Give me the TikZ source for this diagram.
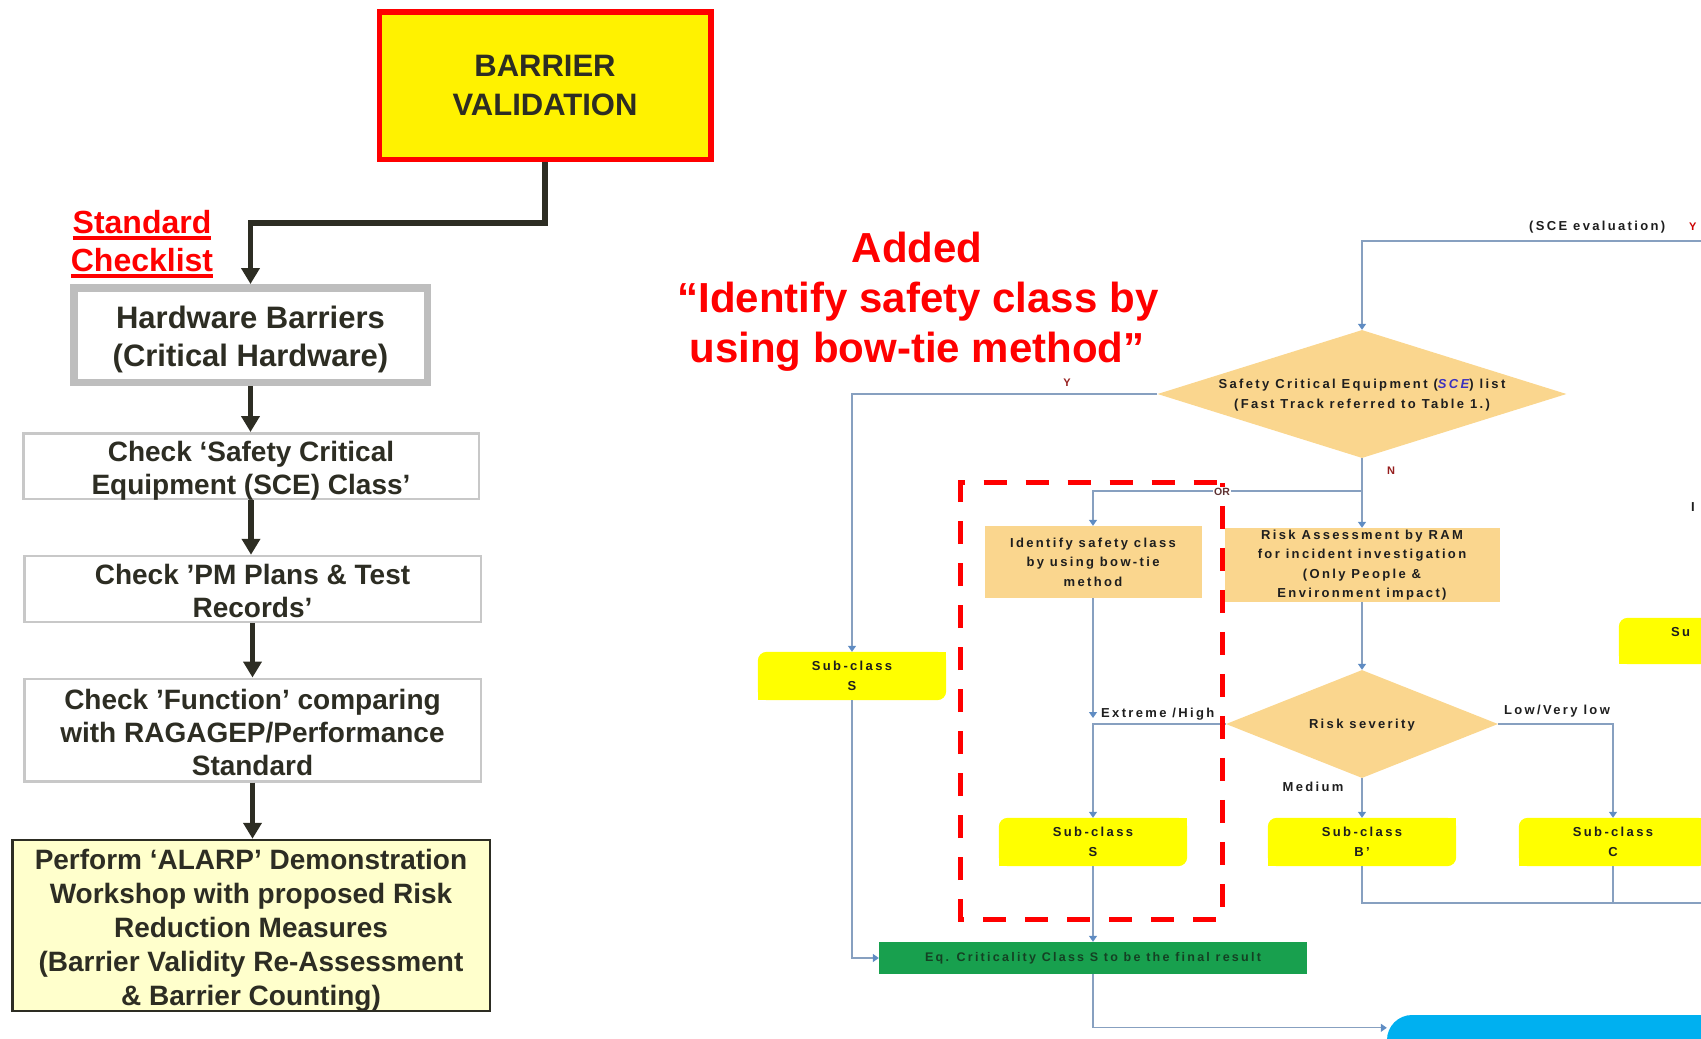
\documentclass[tikz,border=0pt]{standalone}
\usepackage{fontspec}
\setmainfont{Liberation Sans}
\newfontfamily\flowfont[LetterSpace=18]{Liberation Sans}
\usetikzlibrary{arrows.meta,shapes.geometric}

\definecolor{ink}{RGB}{45,45,35}
\definecolor{flowline}{RGB}{135,160,192}
\definecolor{flowtip}{RGB}{95,140,195}
\definecolor{peach}{RGB}{250,214,142}
\definecolor{subyellow}{RGB}{255,255,0}
\definecolor{eqgreen}{RGB}{24,160,78}
\definecolor{eqtext}{RGB}{20,65,35}
\definecolor{endblue}{RGB}{0,176,240}
\definecolor{lblred}{RGB}{150,30,30}
\definecolor{orbrown}{RGB}{95,50,50}
\definecolor{sceblue}{RGB}{60,50,190}
\definecolor{paleyellow}{RGB}{255,255,204}
\definecolor{boxgray}{RGB}{190,190,190}
\definecolor{thingray}{RGB}{200,200,200}
\definecolor{fltext}{RGB}{30,30,30}

\pgfdeclarelayer{bg}
\pgfsetlayers{bg,main}

% thick underline for the red heading
\newcommand\redrule[1]{\setbox0\hbox{#1}\rlap{\rule[-7pt]{\wd0}{4pt}}\box0}

% yellow sub-class box: rounded top-left and bottom-right corners
\newcommand\subfill[1]{%
  \begin{pgfonlayer}{bg}
    \fill[subyellow, rounded corners=9] (#1.north west) rectangle (#1.south east);
    \fill[subyellow] (#1.north east) rectangle ++(-12,12);
    \fill[subyellow] (#1.south west) rectangle ++(12,-12);
  \end{pgfonlayer}}

\begin{document}
\begin{tikzpicture}[x=1pt, y=-1pt,
  stepbox/.style={draw=thingray, line width=2.5, fill=white, text=ink, align=center,
    inner sep=0, text depth=0pt, font=\bfseries\fontsize{28}{33}\selectfont},
  darrow/.style={draw=ink, line width=5.5, -{Triangle[width=18pt,length=16pt]}},
  flow/.style={draw=flowline, line width=1.3},
  flowarr/.style={flow, -{Triangle[width=8pt,length=6pt,color=flowtip]}},
  fltxt/.style={font=\flowfont\bfseries\fontsize{13}{19.5}\selectfont, text=fltext,
    align=center, inner sep=0},
  lbl/.style={fltxt, text=lblred, font=\flowfont\bfseries\fontsize{11}{12}\selectfont},
  subnode/.style={fltxt, minimum width=188, minimum height=48},
  peachbox/.style={fltxt, fill=peach},
  decision/.style={diamond, fill=peach, inner sep=0}
]
\useasboundingbox (0,0) rectangle (1701,1039);
\clip (0,0) rectangle (1701,1039);

% ---------------- left column: barrier validation steps ----------------
\node[draw=red, line width=5.5, fill=yellow, minimum width=331.5, minimum height=147.5,
  inner sep=0, text=ink, align=center, font=\bfseries\fontsize{31}{39}\selectfont]
  (bv) at (545,85.5) {BARRIER\\VALIDATION};

\node[anchor=base, text=red, inner sep=0, font=\bfseries\fontsize{32}{38}\selectfont]
  (std) at (142,233) {\redrule{Standard}};
\node[anchor=base, text=red, inner sep=0, font=\bfseries\fontsize{32}{38}\selectfont]
  (chk) at (142,271) {\redrule{Checklist}};

\node[draw=boxgray, line width=7.5, fill=white, minimum width=353.5, minimum height=94.5,
  inner sep=0, text=ink, align=center, text height=63pt, text depth=0pt,
  font=\bfseries\fontsize{31}{38}\selectfont]
  (hw) at (250.5,335) {Hardware Barriers\\(Critical Hardware)};

\node[stepbox, minimum width=455.5, minimum height=65.5, text height=57pt] (scecls) at (251,466)
  {Check ‘Safety Critical\\Equipment (SCE) Class’};
\node[stepbox, minimum width=456.5, minimum height=66, text height=56pt] (pm) at (252.5,589)
  {Check ’PM Plans \& Test\\Records’};
\node[stepbox, minimum width=456.5, minimum height=102.5, text height=90pt] (fn) at (252.5,730)
  {Check ’Function’ comparing\\with RAGAGEP/Performance\\Standard};
\node[stepbox, draw=ink, fill=paleyellow, minimum width=477.5, minimum height=171,
  text height=160pt, font=\bfseries\fontsize{28}{34}\selectfont] (alarp) at (251,925.5)
  {Perform ‘ALARP’ Demonstration\\Workshop with proposed Risk\\Reduction Measures\\(Barrier Validity Re-Assessment\\\& Barrier Counting)};

\draw[darrow] (bv.south) -- ++(0,61) -| (hw.north);
\draw[darrow] (hw.south) -- (hw.south |- scecls.north);
\draw[darrow] (scecls.south) -- (scecls.south |- pm.north);
\draw[darrow] (pm.south) -- (pm.south |- fn.north);
\draw[darrow] (fn.south) -- (fn.south |- alarp.north);

% ---------------- heading of the added step ----------------
\node[anchor=base, text=red, inner sep=0, font=\bfseries\fontsize{42}{48}\selectfont]
  (add1) at (917,262) {Added};
\node[anchor=base, text=red, inner sep=0, font=\bfseries\fontsize{42}{48}\selectfont]
  (add2) at (918,312) {“Identify safety class by};
\node[anchor=base, text=red, inner sep=0, font=\bfseries\fontsize{42}{48}\selectfont]
  (add3) at (917,362) {using bow-tie method”};

% ---------------- right: safety class flowchart ----------------
\node[fltxt, anchor=west] (sceeval) at (1529,227) {(SCE evaluation)};
\node[lbl, text=red!80!black, anchor=west] (ytop) at (1689,227) {Y};
\coordinate (topin) at (1706,241);

\node[decision, minimum width=409, minimum height=128] (scelist) at (1362,394) {};
\node[fltxt] (scetxt) at (1362,395)
  {Safety Critical Equipment ({\color{sceblue}\itshape SCE}) list\\(Fast Track referred to Table 1.)};

\node[peachbox, minimum width=217, minimum height=72] (idf) at (1093,562)
  {Identify safety class\\by using bow-tie\\method};
\node[peachbox, minimum width=275, minimum height=74] (ram) at (1362,565)
  {Risk Assessment by RAM\\for incident investigation\\(Only People \&\\Environment impact)};

\node[decision, minimum width=272, minimum height=108] (rsv) at (1362,724) {};
\node[fltxt] (rsvtxt) at (1362,725) {Risk severity};

\node[subnode] (subA) at (852,676) {Sub-class\\S};
\subfill{subA}
\node[subnode] (subS) at (1093,842) {Sub-class\\S};
\subfill{subS}
\node[subnode] (subB) at (1362,842) {Sub-class\\B’};
\subfill{subB}
\node[subnode] (subC) at (1613,842) {Sub-class\\C};
\subfill{subC}
\node[subnode, minimum height=46] (subP) at (1713,641) {};
\subfill{subP}
\node[fltxt, anchor=west] (subPtxt) at (1671,632) {Su};
\node[fltxt, anchor=west] (edgemark) at (1691,507) {I};

\node[fill=eqgreen, minimum width=428, minimum height=32, inner sep=0, text=eqtext,
  font=\flowfont\bfseries\fontsize{12.5}{14}\selectfont] (eq) at (1093,958)
  {Eq. Criticality Class S to be the final result};
\node[fill=endblue, rounded corners=25, minimum width=500, minimum height=52, inner sep=0]
  (fin) at (1637,1041) {};

% connectors
\draw[flowarr] (topin) -| (scelist.north);
\draw[flowarr] (scelist.west) -| (subA.north);
\draw[flowarr] (scelist.south) -- (ram.north);
\coordinate (orj) at (1362,491);
\draw[flowarr] (orj) -| (idf.north);
\coordinate (ehtip) at (1093,718);
\draw[flowarr] (idf.south) -- (ehtip);
\draw[flowarr] (rsv.west) -| (subS.north);
\draw[flowarr] (ram.south) -- (rsv.north);
\draw[flowarr] (rsv.east) -| (subC.north);
\draw[flowarr] (rsv.south) -- (subB.north);
\coordinate (botout) at (1706,903);
\draw[flow] (subB.south) |- (botout);
\draw[flow] (subC.south) -- (subC.south |- botout);
\draw[flowarr] (subA.south) |- (eq.west);
\draw[flowarr] (subS.south) -- (eq.north);
\draw[flowarr] (eq.south) |- ([yshift=-13pt]fin.north west);

% branch labels
\node[lbl] (ylab) at (1067,383) {Y};
\node[lbl] (nlab) at (1391,471) {N};
\node[fltxt, anchor=west] (ehlab) at (1101,714) {Extreme /High};
\node[fltxt] (lowlab) at (1557,711) {Low/Very low};
\node[fltxt] (medlab) at (1313,787) {Medium};

% highlight frame round the added step
\node[minimum width=261, minimum height=436, inner sep=0] (hl) at (1091.5,701) {};
\draw[red, line width=5, dash pattern=on 23pt off 19pt, dash phase=19pt, line cap=butt]
  (hl.north east) -- (hl.south east) -- (hl.south west) -- (hl.north west) -- cycle;
\node[lbl, text=orbrown, fill=white, inner xsep=1.5, inner ysep=0.5,
  font=\bfseries\fontsize{10.5}{12}\selectfont] (orlab) at (1222,492) {OR};
\end{tikzpicture}
\end{document}
